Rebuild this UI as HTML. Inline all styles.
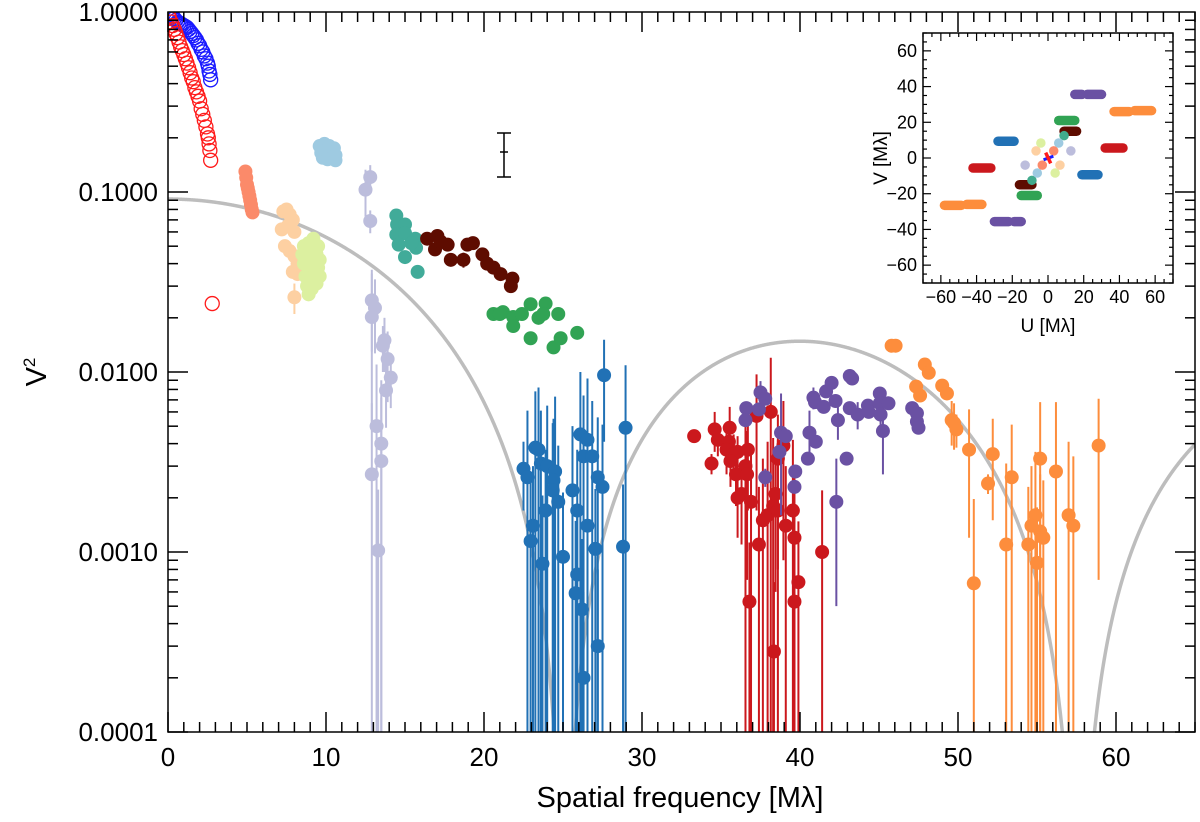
<!DOCTYPE html>
<html><head><meta charset="utf-8"><style>
html,body{margin:0;padding:0;background:#fff;}
svg{display:block;font-family:"Liberation Sans",Arial,sans-serif;}
</style></head><body>
<svg id="chart" width="1200" height="822" viewBox="0 0 1200 822" xmlns="http://www.w3.org/2000/svg"></svg>
<script>
// ---- main chart data ----
const xTicks=[0,10,20,30,40,50,60];
const yTickLabels=["1.0000","0.1000","0.0100","0.0010","0.0001"];
const yTickValues=[1,0.1,0.01,0.001,0.0001];
const modelAmp=0.0914;
const modelFirstZero=25.1;

const blueOpenF=[0.1,0.2,0.3,0.4,0.5,0.6,0.7,0.8,0.9,1.0,1.1,1.2,1.3,1.4,1.5,1.6,1.7,1.8,1.9,2.0,2.1,2.2,2.3,2.4,2.5,2.55,2.6,2.65,2.7];
const blueOpenV=[1.0,0.97,0.95,0.92,0.9,0.88,0.87,0.86,0.85,0.84,0.83,0.82,0.8,0.78,0.76,0.74,0.72,0.7,0.67,0.65,0.62,0.6,0.57,0.55,0.52,0.5,0.47,0.45,0.42];
const redOpenF=[0.05,0.1,0.2,0.3,0.4,0.5,0.6,0.7,0.8,0.9,1.0,1.1,1.2,1.3,1.4,1.5,1.6,1.7,1.8,1.9,2.0,2.1,2.2,2.3,2.4,2.5,2.55,2.6,2.65,2.7,2.8];
const redOpenV=[0.95,0.92,0.88,0.84,0.8,0.76,0.72,0.68,0.64,0.61,0.58,0.55,0.52,0.49,0.46,0.43,0.41,0.38,0.36,0.34,0.32,0.29,0.27,0.25,0.23,0.21,0.2,0.185,0.17,0.15,0.024];

const salmonF=[4.9,4.95,5.0,5.05,5.1,5.15,5.2,5.25,5.3,5.35];
const salmonV=[0.13,0.12,0.11,0.105,0.1,0.095,0.09,0.085,0.08,0.077];
const peachF=[7.3,7.5,7.7,7.9,7.2,7.6,8.0,7.4,7.7,8.0,8.2,8.2,7.9,8.0];
const peachV=[0.078,0.08,0.075,0.07,0.062,0.065,0.06,0.05,0.047,0.044,0.04,0.035,0.036,0.026];
const peachE=[0,0,0,0,0,0,0,0.004,0,0,0,0,0,0.005];
const paleGreenF=[8.6,8.9,9.2,9.5,8.5,8.8,9.1,9.4,9.6,8.6,8.9,9.2,9.5,8.7,9.0,9.3,9.6,8.8,9.1,9.4,8.9];
const paleGreenV=[0.05,0.052,0.055,0.05,0.045,0.044,0.046,0.045,0.042,0.04,0.038,0.04,0.038,0.034,0.033,0.035,0.034,0.03,0.029,0.031,0.027];
const lightBlueF=[9.6,9.9,10.2,10.5,9.7,10.0,10.3,10.6,9.8,10.1,10.4,10.6];
const lightBlueV=[0.18,0.185,0.18,0.175,0.165,0.17,0.165,0.16,0.155,0.152,0.155,0.15];
const lavenderF=[12.8,12.5,12.8,12.9,13.1,12.9,13.7,13.6,13.9,14.1,13.8,13.2,13.5,13.5,12.9,13.3];
const lavenderV=[0.121,0.103,0.069,0.025,0.0227,0.0202,0.015,0.014,0.0118,0.0093,0.0079,0.005,0.004,0.0032,0.0027,0.00102];
const lavenderE=[0.02,0.03,0.01,0.012,0.01,0.015,0.005,0.004,0.005,0.003,0.003,0.006,0.005,0.004,0.004,0.0012];
const tealF=[14.45,14.5,15.0,14.45,15.0,15.65,14.6,15.7,15.0,15.8,15.4];
const tealV=[0.074,0.066,0.066,0.058,0.059,0.055,0.051,0.049,0.0435,0.036,0.052];
const brownF=[16.4,17.05,16.9,17.7,17.9,18.7,18.95,19.3,19.9,20.2,20.6,21.05,21.7,21.8,17.25];
const brownV=[0.055,0.057,0.048,0.051,0.042,0.042,0.051,0.052,0.045,0.04,0.038,0.035,0.030,0.033,0.053];
const brownE=[0,0,0,0,0,0.004,0,0,0,0,0,0,0,0,0];
const greenF=[20.6,21.2,21.85,21.85,22.4,22.95,22.95,23.45,23.9,23.75,24.7,24.4,24.85,25.9,21.0];
const greenV=[0.021,0.0215,0.0202,0.018,0.021,0.0238,0.0154,0.020,0.024,0.021,0.021,0.0137,0.0154,0.0165,0.021];
const darkBlueF=[22.5,22.75,23.25,23.45,23.6,24.0,24.5,24.4,24.35,24.7,23.9,23.1,22.95,23.7,25.0,25.6,26.1,26.55,26.3,26.85,25.9,26.55,27.05,27.2,27.5,27.6,28.96,28.8,25.9,25.8,26.2,27.2,26.3];
const darkBlueV=[0.0029,0.0026,0.0038,0.0037,0.0031,0.003,0.0028,0.0025,0.0022,0.0019,0.0017,0.0014,0.00115,0.00086,0.00094,0.0022,0.0045,0.0042,0.0034,0.0034,0.0017,0.0014,0.00104,0.0026,0.0023,0.0096,0.0049,0.00107,0.00075,0.00059,0.00048,0.0003,0.0002];
const darkBlueE=[0.0012,0.0035,0.004,0.0045,0.003,0.0035,0.0045,0.003,0.003,0.002,0.002,0.0016,0.0013,0.0012,0.0012,0.0028,0.0055,0.005,0.004,0.0035,0.002,0.002,0.0012,0.003,0.0028,0.0055,0.006,0.0013,0.001,0.0009,0.0007,0.0005,0.0004];
const redF=[33.3,34.6,34.8,35.55,35.5,35.35,35.8,36.05,35.6,34.4,36.7,36.55,35.95,36.65,36.3,36.05,36.9,37.25,38.15,37.65,37.95,38.3,38.6,38.45,38.6,38.95,39.1,39.55,39.65,39.9,37.4,36.8,39.65,38.35,41.4];
const redV=[0.0044,0.0048,0.0042,0.0049,0.0041,0.0037,0.0035,0.0036,0.0032,0.0031,0.0037,0.003,0.0027,0.0027,0.0021,0.002,0.0019,0.0057,0.006,0.0015,0.0016,0.0018,0.0017,0.0021,0.0033,0.0039,0.0014,0.0017,0.0012,0.00068,0.0011,0.00053,0.00053,0.00028,0.001];
const redE=[0.0003,0.0012,0.0008,0.0015,0.001,0.001,0.001,0.0008,0.0009,0.0004,0.002,0.0035,0.0009,0.002,0.001,0.0008,0.002,0.004,0.006,0.0018,0.0025,0.0025,0.0025,0.0015,0.0025,0.003,0.0016,0.0025,0.0015,0.0008,0.0012,0.0006,0.0006,0.0004,0.0012];
const purpleF=[36.6,36.55,37.4,37.5,37.8,38.8,39.1,37.8,39.7,39.65,38.7,40.5,40.6,41.0,40.85,40.95,41.5,41.65,42.0,42.25,42.3,42.95,43.15,43.3,42.4,43.15,43.65,44.3,44.35,45.05,45.05,45.1,45.6,45.25,47.1,47.4,47.4,47.5];
const purpleV=[0.0063,0.0054,0.0062,0.0077,0.0071,0.0046,0.0044,0.0026,0.0028,0.0023,0.0036,0.0033,0.0046,0.0041,0.0072,0.0068,0.0064,0.0078,0.0087,0.0069,0.0019,0.0033,0.0095,0.0092,0.0054,0.0063,0.0058,0.0065,0.006,0.0076,0.0067,0.0058,0.0067,0.0047,0.0063,0.0059,0.0053,0.0049];
const purpleE=[0,0,0,0.0012,0,0.003,0,0.0003,0,0,0,0,0.0015,0,0.001,0,0,0,0,0,0.0014,0,0,0,0.0012,0,0.001,0,0,0,0,0.0012,0,0.002,0,0,0,0];
const orangeF=[45.8,46.05,47.9,48.15,47.35,47.6,49.0,49.3,49.6,49.75,49.9,50.7,52.2,51.9,53.4,53.05,51.0,55.2,56.2,54.9,54.65,55.2,55.4,54.45,55.0,57.0,57.3,58.9];
const orangeV=[0.014,0.014,0.011,0.0099,0.0083,0.0074,0.0084,0.0076,0.0054,0.0052,0.0048,0.0037,0.0035,0.0024,0.0026,0.0011,0.00067,0.0033,0.0028,0.0016,0.0014,0.0013,0.0012,0.0011,0.00087,0.0016,0.0014,0.0039];
const orangeE=[0,0,0,0.0005,0,0,0.0004,0,0.0015,0.0015,0.001,0.0025,0.002,0.0003,0.0025,0.002,0.0013,0.0035,0.004,0.002,0.0016,0.0014,0.0013,0.0012,0.0009,0.0025,0.002,0.0032];

// ---- inset data (u-v coverage, mirrored) ----
const insetColors=["#6a51a3","#6a51a3","#fd8d3c","#fd8d3c","#31a354","#5e0c00","#cb181d","#2171b5","#41ab8d","#9ecae1","#dcf0a0","#fdd0a2","#fb8a6a","#bcbddc"];
const insetU1=[15,22,37,48.5,6,9,32,-28,9,6,-4,-6.7,3.2,12.8];
const insetU2=[19,30,45.5,58,15,16,42,-19,9,6,-4,-6.7,3.2,12.8];
const insetV=[35.6,35.6,26,26.5,21,15,5.6,9.4,12.5,8.4,8.4,4,4,4];

const NS="http://www.w3.org/2000/svg";
const svg=document.getElementById('chart');
const X0=168,X1=1195,Y0=12,Y1=732;
function xs(f){return X0+f*(X1-X0)/65;}
function ys(v){return Y0-Math.log10(v)*180;}
function mk(tag,attrs,parent){const e=document.createElementNS(NS,tag);for(const k in attrs)e.setAttribute(k,attrs[k]);(parent||svg).appendChild(e);return e;}

function besselJ0(x){
  const ax=Math.abs(x);
  if(ax<8){const y=x*x;
    const a1=57568490574.0+y*(-13362590354.0+y*(651619640.7+y*(-11214424.18+y*(77392.33017+y*(-184.9052456)))));
    const a2=57568490411.0+y*(1029532985.0+y*(9494680.718+y*(59272.64853+y*(267.8532712+y))));
    return a1/a2;}
  const z=8/ax,y=z*z,xx=ax-0.785398164;
  const p1=1+y*(-0.1098628627e-2+y*(0.2734510407e-4+y*(-0.2073370639e-5+y*0.2093887211e-6)));
  const p2=-0.1562499995e-1+y*(0.1430488765e-3+y*(-0.6911147651e-5+y*(0.7621095161e-6-y*0.934935152e-7)));
  return Math.sqrt(0.636619772/ax)*(Math.cos(xx)*p1-z*Math.sin(xx)*p2);
}
const clip=mk('clipPath',{id:'plotclip'});
mk('rect',{x:X0,y:Y0,width:X1-X0,height:Y1-Y0},clip);
let d='';let pen=false;
for(let i=0;i<=2600;i++){const f=i*65/2600;const j=besselJ0(2.405*f/modelFirstZero);let v=modelAmp*j*j;
  if(v<1e-4*0.9){pen=false;continue;}
  d+=(pen?'L':'M')+xs(f).toFixed(2)+','+ys(v).toFixed(2);pen=true;}
const model=mk('path',{d:d,fill:'none',stroke:'#bdbdbd','stroke-width':3.5,'clip-path':'url(#plotclip)'});



function series(name,F,V,E,color,open){
  const g=mk('g',{'clip-path':'url(#plotclip)'});
  
  
  if(E){for(let i=0;i<F.length;i++){if(!E[i])continue;const lo=V[i]-E[i];
    const yl=lo<=1e-4?Y1+2:ys(lo);
    const b=mk('line',{x1:xs(F[i]),x2:xs(F[i]),y1:ys(V[i]+E[i]),y2:yl,stroke:color,'stroke-width':2},g);
    
    }}
  for(let i=0;i<F.length;i++){
    const c=mk('circle',{cx:xs(F[i]),cy:ys(V[i]),r:7,fill:open?'none':color,stroke:color,'stroke-width':open?1.3:0},g);
    
    }
}
series('blue-open-series',blueOpenF,blueOpenV,null,'#1a1aff',true);
series('red-open-series',redOpenF,redOpenV,null,'#ff1a1a',true);
series('salmon-series',salmonF,salmonV,null,'#fb8a6a');
series('peach-series',peachF,peachV,peachE,'#fdd0a2');
series('pale-green-series',paleGreenF,paleGreenV,null,'#dcf0a0');
series('light-blue-series',lightBlueF,lightBlueV,null,'#9ecae1');
series('lavender-series',lavenderF,lavenderV,lavenderE,'#bcbddc');
series('teal-series',tealF,tealV,null,'#41ab99');
series('brown-series',brownF,brownV,brownE,'#5e0c00');
series('green-series',greenF,greenV,null,'#31a354');
series('dark-blue-series',darkBlueF,darkBlueV,darkBlueE,'#2171b5');
series('red-series',redF,redV,redE,'#cb181d');
series('purple-series',purpleF,purpleV,purpleE,'#6a51a3');
series('orange-series',orangeF,orangeV,orangeE,'#fd8d3c');

const te=mk('g',{stroke:'#000','stroke-width':1.5});


mk('line',{x1:504,x2:504,y1:133,y2:177},te);
mk('line',{x1:497,x2:511,y1:133,y2:133},te);
mk('line',{x1:497,x2:511,y1:177,y2:177},te);
mk('line',{x1:500,x2:508,y1:152,y2:152},te);

const fr=mk('rect',{x:X0,y:Y0,width:X1-X0,height:Y1-Y0,fill:'none',stroke:'#000','stroke-width':1.5});


const tk=mk('g',{stroke:'#000','stroke-width':1.5});


for(let f=0;f<=65;f++){const L=(f%10===0)?20:10;const x=xs(f);
  mk('line',{x1:x,x2:x,y1:Y1,y2:Y1-L},tk);mk('line',{x1:x,x2:x,y1:Y0,y2:Y0+L},tk);}
for(let dec=-4;dec<0;dec++){for(let m=1;m<10;m++){const v=m*Math.pow(10,dec);const y=ys(v);const L=m===1?20:10;
  mk('line',{x1:X0,x2:X0+L,y1:y,y2:y},tk);mk('line',{x1:X1,x2:X1-L,y1:y,y2:y},tk);}}
for(let i=0;i<xTicks.length;i++){const t=mk('text',{x:xs(xTicks[i]),y:766,'text-anchor':'middle','font-size':26});t.textContent=xTicks[i];
  
  }
for(let i=0;i<yTickValues.length;i++){const t=mk('text',{x:158,y:ys(yTickValues[i])+9,'text-anchor':'end','font-size':26});t.textContent=yTickLabels[i];
  
  }
const xt=mk('text',{x:680,y:807,'text-anchor':'middle','font-size':29});xt.textContent='Spatial frequency [Mλ]';


const yt=mk('text',{x:0,y:0,'text-anchor':'middle','font-size':29,transform:'translate(46,372) rotate(-90)'});
yt.innerHTML='V<tspan dy="-11" font-size="17">2</tspan>';



// ---- inset ----
const IX0=923,IX1=1173,IY0=33,IY1=283;
function ux(u){return IX0+(u+70)*(IX1-IX0)/140;}
function vy(v){return IY1-(v+70)*(IY1-IY0)/140;}
const ig=mk('g',{});


mk('rect',{x:IX0,y:IY0,width:IX1-IX0,height:IY1-IY0,fill:'#fff',stroke:'none'},ig);
for(let i=0;i<insetU1.length;i++){for(const s of [1,-1]){
  const ln=mk('line',{x1:ux(s*insetU1[i]),x2:ux(s*insetU2[i]),y1:vy(s*insetV[i]),y2:vy(s*insetV[i]),stroke:insetColors[i],'stroke-width':9.5,'stroke-linecap':'round'},ig);
  
  }}
mk('line',{x1:ux(-2.5),x2:ux(3),y1:vy(-1),y2:vy(1),stroke:'#1a1aff','stroke-width':3},ig);
mk('line',{x1:ux(-1.3),x2:ux(1.5),y1:vy(3),y2:vy(-3),stroke:'#ff1a1a','stroke-width':3.5},ig);
mk('rect',{x:IX0,y:IY0,width:IX1-IX0,height:IY1-IY0,fill:'none',stroke:'#000','stroke-width':1.5},ig);
for(let u=-70;u<=70;u+=5){const L=u%20===0?8:4;const x=ux(u);
  mk('line',{x1:x,x2:x,y1:IY1,y2:IY1-L,stroke:'#000','stroke-width':1.2},ig);mk('line',{x1:x,x2:x,y1:IY0,y2:IY0+L,stroke:'#000','stroke-width':1.2},ig);
  const y=vy(u);mk('line',{x1:IX0,x2:IX0+L,y1:y,y2:y,stroke:'#000','stroke-width':1.2},ig);mk('line',{x1:IX1,x2:IX1-L,y1:y,y2:y,stroke:'#000','stroke-width':1.2},ig);}
for(let u=-60;u<=60;u+=20){
  const a=mk('text',{x:ux(u),y:IY1+20,'text-anchor':'middle','font-size':18},ig);a.textContent=(u<0?'−':'')+Math.abs(u);
  
  
  const b=mk('text',{x:IX0-6,y:vy(u)+6,'text-anchor':'end','font-size':18},ig);b.textContent=(u<0?'−':'')+Math.abs(u);
  
  }
const ut=mk('text',{x:1048,y:332,'text-anchor':'middle','font-size':19},ig);ut.textContent='U [Mλ]';


const vt=mk('text',{x:0,y:0,'text-anchor':'middle','font-size':19,transform:'translate(887,158) rotate(-90)'},ig);vt.textContent='V [Mλ]';


</script>
</body></html>
